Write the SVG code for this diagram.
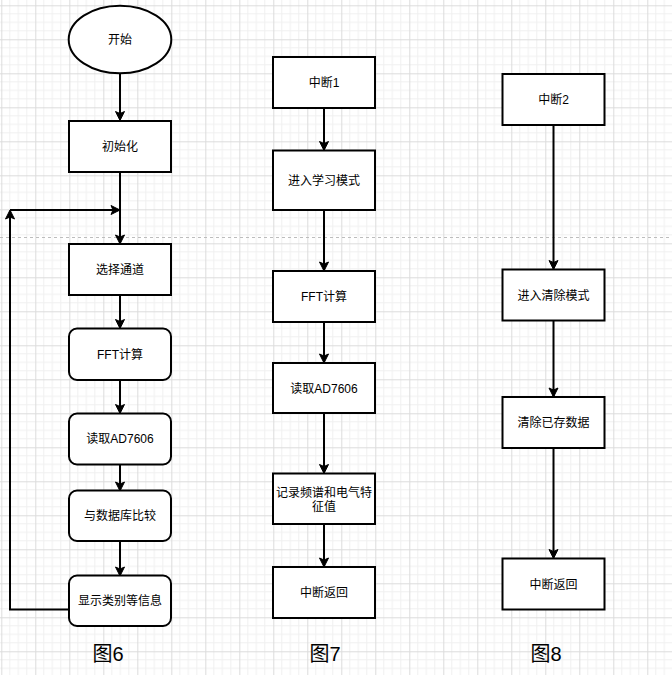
<svg xmlns="http://www.w3.org/2000/svg" width="672" height="675" viewBox="0 0 672 675">
<style>
.box{fill:#ffffff;stroke:#000000;stroke-width:2}
.lbl{font-family:"Liberation Sans","Noto Sans CJK SC",sans-serif;font-size:12px;fill:#000000;text-anchor:middle;dominant-baseline:central}
.cap{font-family:"Liberation Sans","Noto Sans CJK SC",sans-serif;font-size:20px;fill:#000000;text-anchor:middle}
.edge{fill:none;stroke:#000000;stroke-width:2;marker-end:url(#arr)}
.minor{stroke:#f0f0f0;stroke-width:1}
.major{stroke:#dcdcdc;stroke-width:1}
</style>
<defs>
<marker id="arr" markerUnits="userSpaceOnUse" viewBox="-10 -6 12 12" markerWidth="12" markerHeight="12" refX="0" refY="0" orient="auto">
<path d="M-8,-4.5 L1,0 L-8,4.5 L-6,0 Z" fill="#000000" stroke="#000000" stroke-width="1"/>
</marker>
<pattern id="grid" patternUnits="userSpaceOnUse" x="1.3" y="5.3" width="34" height="34">
<line class="minor" x1="8.5" y1="0" x2="8.5" y2="34"/>
<line class="minor" x1="17" y1="0" x2="17" y2="34"/>
<line class="minor" x1="25.5" y1="0" x2="25.5" y2="34"/>
<line class="minor" x1="0" y1="8.5" x2="34" y2="8.5"/>
<line class="minor" x1="0" y1="17" x2="34" y2="17"/>
<line class="minor" x1="0" y1="25.5" x2="34" y2="25.5"/>
<line class="major" x1="0.5" y1="0" x2="0.5" y2="34"/>
<line class="major" x1="0" y1="0.5" x2="34" y2="0.5"/>
</pattern>
</defs>
<rect x="0" y="0" width="672" height="675" fill="#ffffff"/>
<rect x="0" y="0" width="672" height="675" fill="url(#grid)"/>
<line x1="0" y1="237.5" x2="672" y2="237.5" stroke="#bdbdbd" stroke-width="1" stroke-dasharray="3,3"/>

<g id="connectors">
<line class="edge" x1="120" y1="73.5" x2="120" y2="119.5"/>
<line class="edge" x1="120" y1="172" x2="120" y2="243"/>
<line class="edge" x1="120" y1="295" x2="120" y2="327.5"/>
<line class="edge" x1="120" y1="380" x2="120" y2="412.5"/>
<line class="edge" x1="120" y1="464" x2="120" y2="490"/>
<line class="edge" x1="120" y1="541" x2="120" y2="575"/>
<path class="edge" d="M69,609.5 H10 V211"/>
<line class="edge" x1="10" y1="210" x2="119" y2="210"/>
<line class="edge" x1="324" y1="108" x2="324" y2="149.5"/>
<line class="edge" x1="324" y1="210" x2="324" y2="270"/>
<line class="edge" x1="324" y1="322" x2="324" y2="362"/>
<line class="edge" x1="324" y1="413" x2="324" y2="472.5"/>
<line class="edge" x1="324" y1="524" x2="324" y2="566"/>
<line class="edge" x1="553.5" y1="125" x2="553.5" y2="268.5"/>
<line class="edge" x1="553.5" y1="320.5" x2="553.5" y2="396"/>
<line class="edge" x1="553.5" y1="448" x2="553.5" y2="557.5"/>
</g>

<g id="start6"><ellipse class="box" cx="120" cy="39.5" rx="51.3" ry="33.8"/><text class="lbl" x="120" y="40">开始</text></g>
<g id="init6"><rect class="box" x="69" y="121" width="102" height="51"/><text class="lbl" x="120" y="147">初始化</text></g>
<g id="chan6"><rect class="box" x="69" y="244" width="102" height="51"/><text class="lbl" x="120" y="270">选择通道</text></g>
<g id="fft6"><rect class="box" x="69" y="328.5" width="102" height="51.5" rx="8" ry="8"/><text class="lbl" x="120" y="354.5">FFT计算</text></g>
<g id="read6"><rect class="box" x="69" y="413.5" width="102" height="51" rx="8" ry="8"/><text class="lbl" x="120" y="439">读取AD7606</text></g>
<g id="cmp6"><rect class="box" x="69" y="490.5" width="102" height="50.5" rx="8" ry="8"/><text class="lbl" x="120" y="516">与数据库比较</text></g>
<g id="show6"><rect class="box" x="69" y="575.5" width="102" height="50.5" rx="8" ry="8"/><text class="lbl" x="120" y="601">显示类别等信息</text></g>
<g id="cap6"><text class="cap" x="108" y="661">图6</text></g>

<g id="int7"><rect class="box" x="273" y="57" width="102" height="51"/><text class="lbl" x="324" y="83">中断1</text></g>
<g id="learn7"><rect class="box" x="273" y="150.5" width="102" height="59.5"/><text class="lbl" x="324" y="181">进入学习模式</text></g>
<g id="fft7"><rect class="box" x="273" y="271" width="102" height="51"/><text class="lbl" x="324" y="297">FFT计算</text></g>
<g id="read7"><rect class="box" x="273" y="363" width="102" height="50"/><text class="lbl" x="324" y="388.5">读取AD7606</text></g>
<g id="rec7"><rect class="box" x="273" y="473.5" width="102" height="50.5"/><text class="lbl" x="324" y="492.5">记录频谱和电气特</text><text class="lbl" x="324" y="507">征值</text></g>
<g id="ret7"><rect class="box" x="273" y="567" width="102" height="51"/><text class="lbl" x="324" y="593">中断返回</text></g>
<g id="cap7"><text class="cap" x="325" y="661">图7</text></g>

<g id="int8"><rect class="box" x="502.5" y="74" width="102" height="51"/><text class="lbl" x="553.5" y="100">中断2</text></g>
<g id="clr8"><rect class="box" x="502.5" y="269.5" width="102" height="51"/><text class="lbl" x="553.5" y="295.5">进入清除模式</text></g>
<g id="del8"><rect class="box" x="502.5" y="397" width="102" height="51"/><text class="lbl" x="553.5" y="423">清除已存数据</text></g>
<g id="ret8"><rect class="box" x="502.5" y="558.5" width="102" height="51"/><text class="lbl" x="553.5" y="584.5">中断返回</text></g>
<g id="cap8"><text class="cap" x="546" y="661">图8</text></g>
</svg>
